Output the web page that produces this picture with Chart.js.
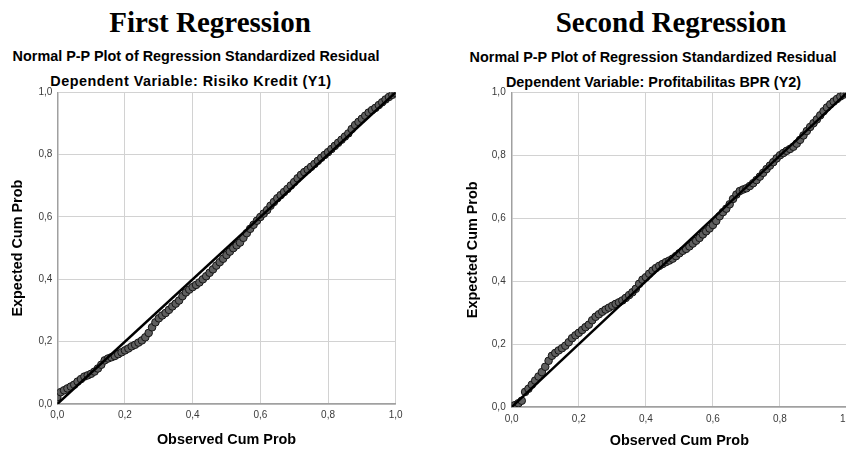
<!DOCTYPE html>
<html>
<head>
<meta charset="utf-8">
<script src="https://cdn.jsdelivr.net/npm/chart.js@4.4.1/dist/chart.umd.min.js"></script>
<style>
  html, body { margin: 0; padding: 0; background: #fff; }
  body { width: 846px; height: 450px; overflow: hidden; position: relative; }
  .head { position: absolute; width: 500px; text-align: center; white-space: nowrap; color: #000; }
  .big { font: bold 29px "Liberation Serif", "Times New Roman", serif; line-height: 29px; }
  .sub { font: bold 14.4px "Liberation Sans", Arial, sans-serif; line-height: 14.4px; }
  .box { position: absolute; top: 80px; width: 420px; height: 370px; }
</style>
</head>
<body>
<div class="head big" style="left:-40px; top:8px;">First Regression</div>
<div class="head big" style="left:421px; top:8px;">Second Regression</div>
<div class="head sub" style="left:-54px; top:48.5px;">Normal P-P Plot of Regression Standardized Residual</div>
<div class="head sub" style="left:-59px; top:74px; letter-spacing:0.5px;">Dependent Variable: Risiko Kredit (Y1)</div>
<div class="head sub" style="left:403px; top:49.5px;">Normal P-P Plot of Regression Standardized Residual</div>
<div class="head sub" style="left:403.5px; top:75px;">Dependent Variable: Profitabilitas BPR (Y2)</div>

<div class="box" style="left:0px;"><canvas id="pp1" width="420" height="370"></canvas></div>
<div class="box" style="left:440px;"><canvas id="pp2" width="420" height="370"></canvas></div>

<script>
// observed cumulative probability (x) shared by both plots
const observedCumProb = [
  0.00, 0.01, 0.02, 0.03, 0.04, 0.05, 0.06, 0.07, 0.08, 0.09,
  0.10, 0.11, 0.12, 0.13, 0.14, 0.15, 0.16, 0.17, 0.18, 0.19,
  0.20, 0.21, 0.22, 0.23, 0.24, 0.25, 0.26, 0.27, 0.28, 0.29,
  0.30, 0.31, 0.32, 0.33, 0.34, 0.35, 0.36, 0.37, 0.38, 0.39,
  0.40, 0.41, 0.42, 0.43, 0.44, 0.45, 0.46, 0.47, 0.48, 0.49,
  0.50, 0.51, 0.52, 0.53, 0.54, 0.55, 0.56, 0.57, 0.58, 0.59,
  0.60, 0.61, 0.62, 0.63, 0.64, 0.65, 0.66, 0.67, 0.68, 0.69,
  0.70, 0.71, 0.72, 0.73, 0.74, 0.75, 0.76, 0.77, 0.78, 0.79,
  0.80, 0.81, 0.82, 0.83, 0.84, 0.85, 0.86, 0.87, 0.88, 0.89,
  0.90, 0.91, 0.92, 0.93, 0.94, 0.95, 0.96, 0.97, 0.98, 0.99,
  1.00
];

// expected cum prob, Risiko Kredit (Y1)
const expectedY1 = [
  0.022, 0.038, 0.044, 0.050, 0.056, 0.062, 0.072, 0.080, 0.088, 0.092,
  0.097, 0.104, 0.114, 0.126, 0.140, 0.146, 0.150, 0.154, 0.160, 0.166,
  0.172, 0.178, 0.185, 0.190, 0.197, 0.204, 0.214, 0.228, 0.246, 0.262,
  0.275, 0.284, 0.292, 0.302, 0.313, 0.322, 0.332, 0.346, 0.358, 0.367,
  0.375, 0.382, 0.390, 0.400, 0.410, 0.421, 0.432, 0.444, 0.455, 0.466,
  0.478, 0.489, 0.500, 0.509, 0.518, 0.533, 0.548, 0.562, 0.575, 0.588,
  0.600, 0.611, 0.622, 0.636, 0.648, 0.660, 0.670, 0.680, 0.690, 0.701,
  0.712, 0.724, 0.735, 0.744, 0.752, 0.761, 0.770, 0.780, 0.790, 0.799,
  0.808, 0.818, 0.828, 0.838, 0.848, 0.858, 0.868, 0.882, 0.895, 0.905,
  0.915, 0.925, 0.935, 0.943, 0.950, 0.959, 0.968, 0.977, 0.985, 0.992,
  0.998
];

// expected cum prob, Profitabilitas BPR (Y2)
const expectedY2 = [
  0.002, 0.006, 0.012, 0.020, 0.048, 0.058, 0.071, 0.084, 0.097, 0.111,
  0.128, 0.147, 0.163, 0.172, 0.180, 0.187, 0.195, 0.206, 0.219, 0.228,
  0.236, 0.245, 0.254, 0.262, 0.276, 0.287, 0.295, 0.303, 0.310, 0.316,
  0.322, 0.328, 0.333, 0.339, 0.347, 0.356, 0.365, 0.376, 0.392, 0.405,
  0.413, 0.424, 0.434, 0.442, 0.449, 0.455, 0.461, 0.466, 0.472, 0.480,
  0.489, 0.497, 0.503, 0.511, 0.520, 0.529, 0.538, 0.549, 0.559, 0.568,
  0.579, 0.592, 0.607, 0.620, 0.631, 0.645, 0.662, 0.676, 0.687, 0.692,
  0.696, 0.703, 0.712, 0.722, 0.733, 0.745, 0.757, 0.768, 0.779, 0.791,
  0.801, 0.808, 0.815, 0.821, 0.828, 0.838, 0.850, 0.864, 0.878, 0.891,
  0.903, 0.915, 0.928, 0.941, 0.953, 0.963, 0.972, 0.980, 0.988, 0.994,
  0.998
];

// diagonal reference line
const refLineX = [0, 1];
const refLineY = [0, 1];

const tickValues = [0, 0.2, 0.4, 0.6, 0.8, 1.0];

const sansFont = '"Liberation Sans", Arial, sans-serif';

function formatTick(v) {
  return Number(v).toFixed(1).replace(".", ",");
}

function toPoints(xs, ys) {
  return xs.map((x, i) => ({ x: x, y: ys[i] }));
}

function drawPP(canvasId, expected, lay) {
  const ctx = document.getElementById(canvasId).getContext("2d");
  return new Chart(ctx, {
    type: "scatter",
    data: {
      datasets: [
        {
          type: "line",
          data: toPoints(refLineX, refLineY),
          borderColor: "#000",
          borderWidth: 2.5,
          pointRadius: 0,
          fill: false
        },
        {
          data: toPoints(observedCumProb, expected),
          pointRadius: 3.8,
          pointBackgroundColor: "#5f5f5f",
          pointBorderColor: "#151515",
          pointBorderWidth: 1
        }
      ]
    },
    options: {
      responsive: false,
      animation: false,
      layout: { padding: { top: lay.padTop, right: lay.padRight, bottom: 0, left: 0 } },
      plugins: { legend: { display: false }, tooltip: { enabled: false } },
      scales: {
        x: {
          type: "linear", min: 0, max: 1,
          afterBuildTicks: s => { s.ticks = tickValues.map(v => ({ value: v })); },
          afterFit: s => { s.height = lay.xHeight; },
          ticks: { callback: formatTick, color: "#3a3a3a", font: { family: sansFont, size: 10 }, padding: lay.xTickPad, maxRotation: 0, autoSkip: false },
          grid: { color: "#d2d2d2", lineWidth: 1, drawTicks: false },
          border: { color: "#a0a0a0", width: 1.5 },
          title: { display: true, text: "Observed Cum Prob", color: "#000", font: { family: sansFont, size: 14.4, weight: "bold" }, padding: { top: 0, bottom: lay.xTitlePad } }
        },
        y: {
          type: "linear", min: 0, max: 1,
          afterBuildTicks: s => { s.ticks = tickValues.map(v => ({ value: v })); },
          afterFit: s => { s.width = lay.yWidth; },
          ticks: { callback: formatTick, color: "#3a3a3a", font: { family: sansFont, size: 10 }, padding: lay.yTickPad, autoSkip: false },
          grid: { color: "#d2d2d2", lineWidth: 1, drawTicks: false },
          border: { color: "#a0a0a0", width: 1.5 },
          title: { display: true, text: "Expected Cum Prob", color: "#000", font: { family: sansFont, size: 14.4, weight: "bold" }, padding: { top: lay.yTitlePad, bottom: 0 } }
        }
      }
    }
  });
}

window.onload = function () {
  drawPP("pp1", expectedY1, { padTop: 12.3, padRight: 24.3, xHeight: 46, yWidth: 57.3, xTickPad: 5, yTickPad: 5, xTitlePad: 1.6, yTitlePad: 9 });
  drawPP("pp2", expectedY2, { padTop: 12.7, padRight: 11, xHeight: 43, yWidth: 71.7, xTickPad: 6, yTickPad: 6, xTitlePad: 0, yTitlePad: 24 });
};
</script>
</body>
</html>
